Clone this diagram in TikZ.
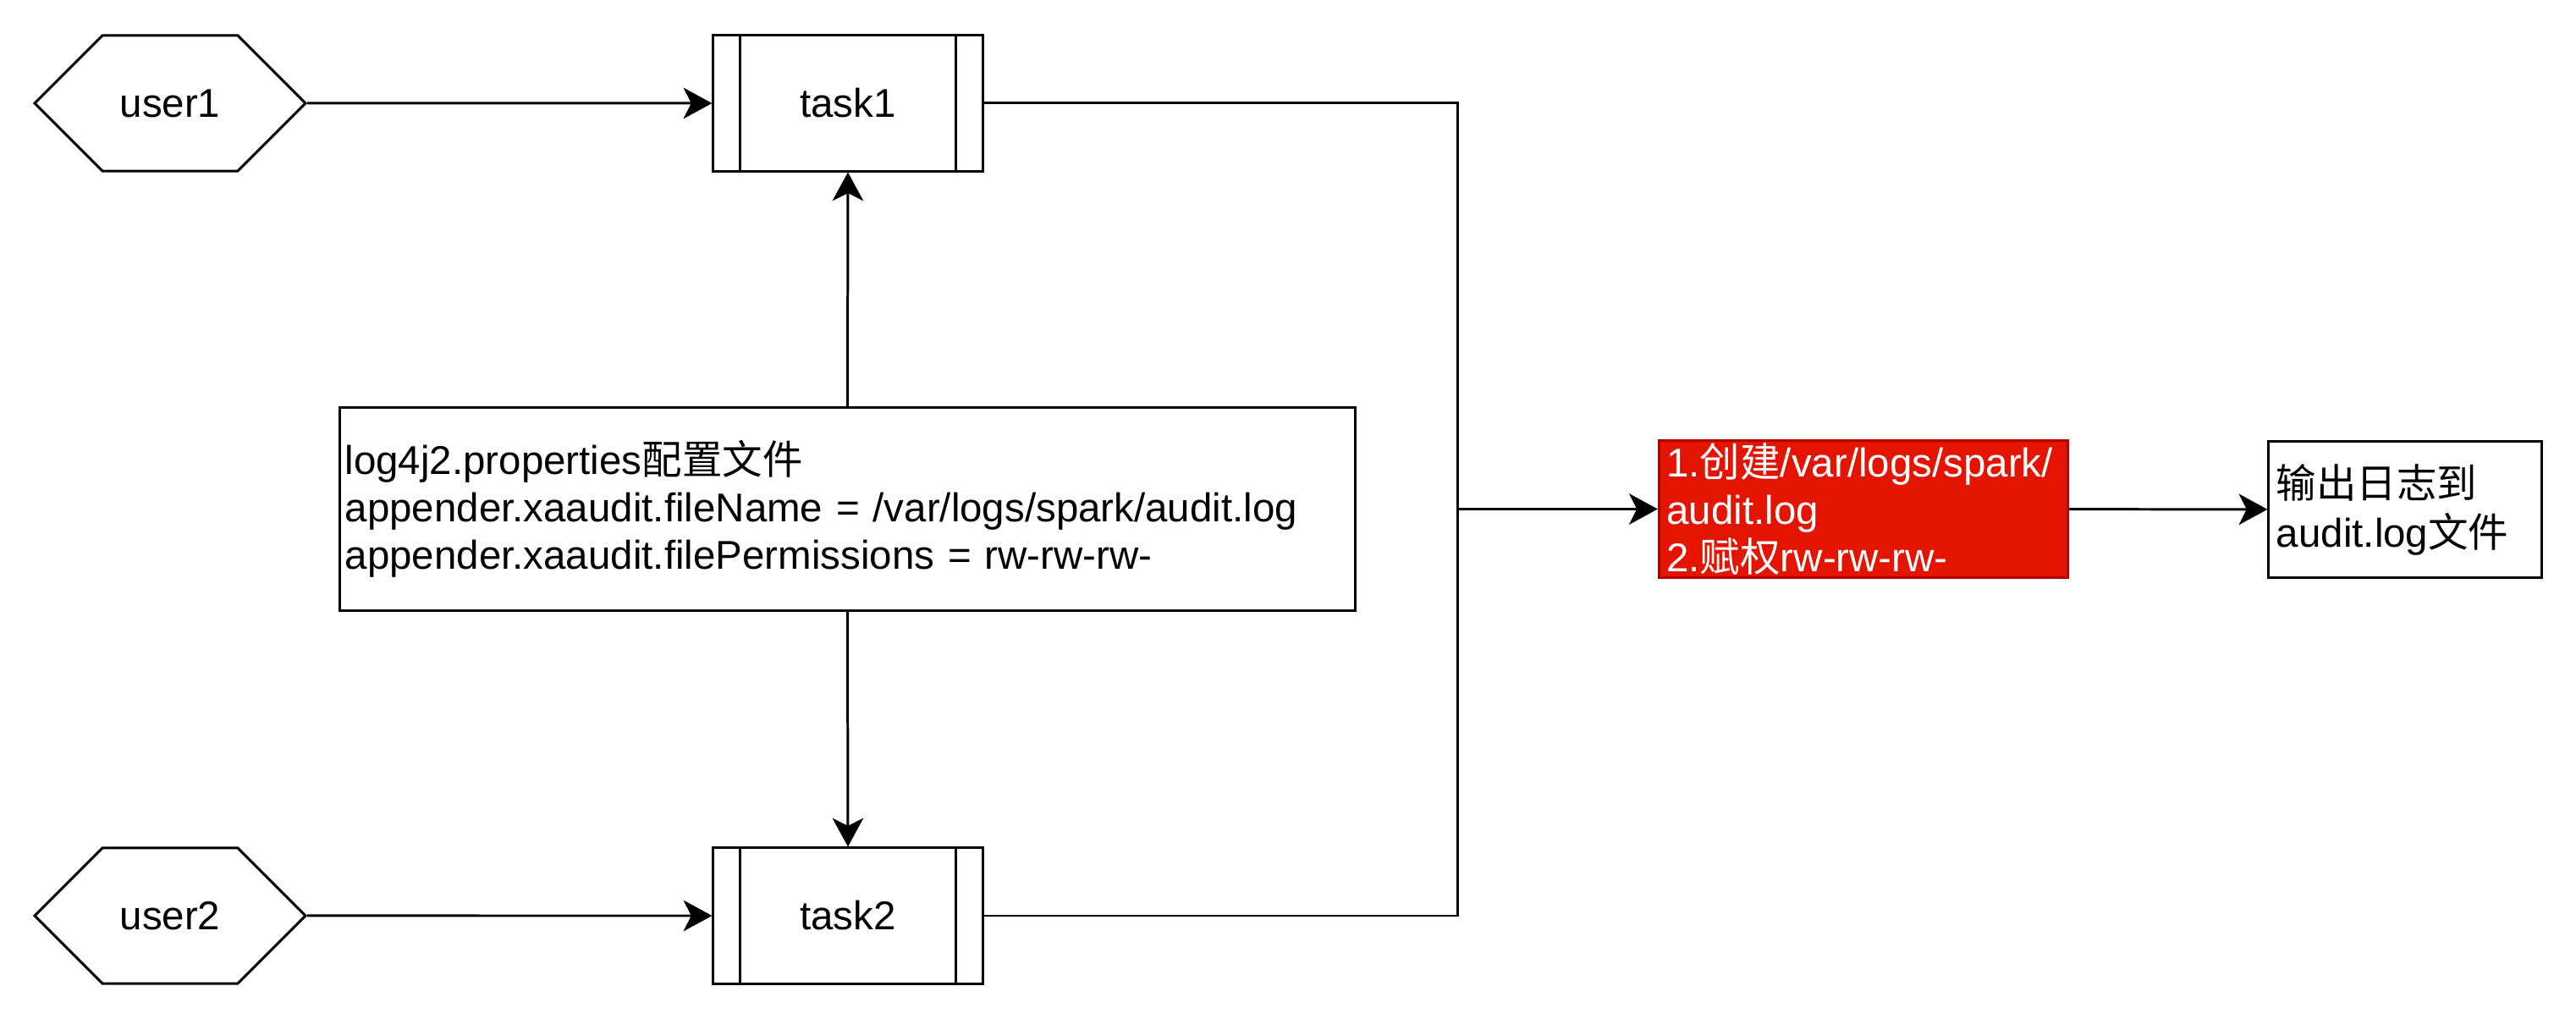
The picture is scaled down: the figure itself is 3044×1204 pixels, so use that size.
\documentclass[tikz,border=0pt]{standalone}
\usepackage{fontspec}
\setmainfont{Liberation Sans}
\newfontfamily\cjk{Noto Sans CJK SC}
\usetikzlibrary{arrows.meta,shapes.symbols}
\definecolor{alertfill}{HTML}{E51400}
\definecolor{alertline}{HTML}{B20000}
\lineskiplimit=-5pt
\tikzset{
	line/.style={line width=0.85pt},
	flow/.style={line, -{Stealth[length=9.6pt,width=10.4pt,inset=2.6pt]}},
	userhex/.style={draw, line, signal, signal to=east and west, signal pointer angle=90,
		minimum width=3.2cm, minimum height=1.6cm, inner sep=0pt},
	taskbox/.style={draw, line, minimum width=3.18cm, minimum height=1.6cm, inner sep=0pt,
		path picture={
			\draw [line] ([xshift=0.318cm]path picture bounding box.north west) -- ([xshift=0.318cm]path picture bounding box.south west);
			\draw [line] ([xshift=-0.318cm]path picture bounding box.north east) -- ([xshift=-0.318cm]path picture bounding box.south east);
		}},
	notebox/.style={draw, line, align=left, inner ysep=0pt}
}
\begin{document}
\begin{tikzpicture}[x=0.01cm, y=-0.01cm, font=\fontsize{13.5}{16}\selectfont]
	\useasboundingbox (0,0) rectangle (3044,1204);
	% Draw users and tasks
	\node [userhex] (u1) at (201,122) {user1};
	\node [userhex] (u2) at (201,1082) {user2};
	\node [taskbox] (t1) at (1002,122) {task1};
	\node [taskbox] (t2) at (1002,1082) {task2};

	% Draw config box
	\node [notebox, text width=11.87cm, inner xsep=0.06cm, minimum height=2.39cm,
		font=\fontsize{13.5}{15.9}\selectfont] (cfg) at (1001.5,601.5)
		{log4j2.properties{\cjk 配置文件}\\
		appender.xaaudit.fileName = /var/logs/spark/audit.log\\
		appender.xaaudit.filePermissions = rw-rw-rw-};

	% Draw red step and output
	\node [notebox, draw=alertline, fill=alertfill, text=white, text width=4.65cm,
		inner xsep=0.09cm, minimum height=1.61cm,
		font=\fontsize{13.5}{15.9}\selectfont] (mk) at (2202,601.5)
		{1.{\cjk 创建}/var/logs/spark/\\
		audit.log\\
		2.{\cjk 赋权}rw-rw-rw-};
	\node [notebox, text width=3.04cm, inner xsep=0.09cm, minimum height=1.6cm,
		font=\fontsize{13.5}{16.5}\selectfont] (out) at (2842,602)
		{{\cjk 输出日志到}\\
		audit.log{\cjk 文件}};

	% Draw connectors
	\coordinate (jn) at (1722,601.5);
	\draw [flow] (u1) -- (t1);
	\draw [flow] (u2) -- (t2);
	\draw [flow] (cfg.north) -- (t1.south);
	\draw [flow] (cfg.south) -- (t2.north);
	\draw [line] (t1.east) -| (jn);
	\draw [line] (t2.east) -| (jn);
	\draw [flow] (jn) -- (mk.west);
	\draw [flow] (mk) -- (out);
\end{tikzpicture}
\end{document}
